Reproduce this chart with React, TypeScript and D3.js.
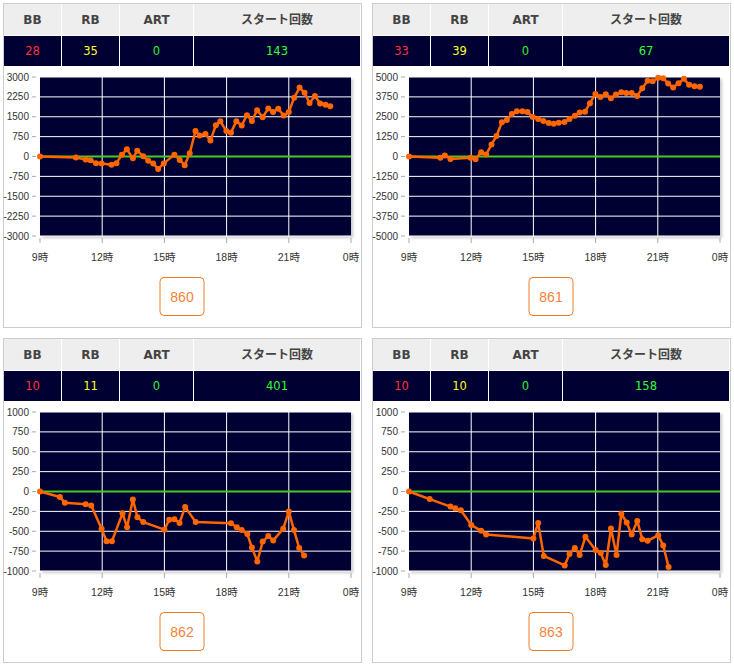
import React from 'react';
import * as d3 from 'd3';

const hourTicks = [9, 12, 15, 18, 21, 24];
const hourLabels = ['9時', '12時', '15時', '18時', '21時', '0時'];
const headers = ['BB', 'RB', 'ART', 'スタート回数'];
const machineIds = ['860', '861', '862', '863'];
const bbCounts = [28, 33, 10, 10];
const rbCounts = [35, 39, 11, 10];
const artCounts = [0, 0, 0, 0];
const startCounts = [143, 67, 401, 158];
const yLimits = [3000, 5000, 1000, 1000];

const times860 = [9, 10.73, 11.2, 11.44, 11.7, 11.97, 12.45, 12.69, 12.95, 13.19, 13.48, 13.69, 13.98, 14.22, 14.46, 14.7, 14.97, 15.48, 15.74, 15.98, 16.22, 16.5, 16.7, 16.98, 17.22, 17.48, 17.7, 17.99, 18.21, 18.47, 18.73, 18.98, 19.22, 19.47, 19.74, 20.01, 20.24, 20.49, 20.75, 21.0, 21.26, 21.52, 21.76, 22.0, 22.26, 22.51, 22.77, 23.0];
const diff860 = [0, -40, -110, -140, -250, -260, -310, -250, 70, 270, -70, 220, 6, -160, -260, -470, -260, 70, -130, -330, 120, 960, 790, 850, 600, 1180, 1330, 960, 900, 1330, 1170, 1560, 1340, 1750, 1480, 1810, 1680, 1800, 1550, 1680, 2220, 2600, 2410, 2020, 2280, 2000, 1950, 1900];

const times861 = [9, 10.51, 10.73, 11.0, 11.97, 12.21, 12.48, 12.72, 12.98, 13.22, 13.48, 13.72, 13.96, 14.2, 14.47, 14.71, 14.97, 15.23, 15.48, 15.74, 15.98, 16.22, 16.5, 16.74, 17.0, 17.23, 17.49, 17.73, 17.99, 18.23, 18.49, 18.74, 18.98, 19.24, 19.48, 19.74, 20.0, 20.25, 20.51, 20.75, 21.02, 21.26, 21.5, 21.74, 22.0, 22.26, 22.51, 22.77, 23.03];
const diff861 = [0, -85, 65, -150, -85, -170, 275, 125, 760, 1285, 2150, 2295, 2675, 2840, 2840, 2800, 2485, 2360, 2230, 2105, 2060, 2125, 2170, 2360, 2570, 2760, 2820, 3350, 3935, 3745, 3915, 3665, 3895, 4040, 4000, 4000, 3810, 4295, 4760, 4735, 4945, 4925, 4590, 4335, 4610, 4885, 4505, 4420, 4380];

const times862 = [9, 9.96, 10.2, 11.2, 11.47, 11.97, 12.21, 12.47, 12.98, 13.2, 13.48, 13.7, 13.98, 15.0, 15.23, 15.48, 15.73, 16.0, 16.51, 18.21, 18.49, 18.73, 19.0, 19.22, 19.48, 19.74, 20.01, 20.25, 20.73, 21.0, 21.25, 21.5, 21.74];
const diff862 = [0, -70, -140, -160, -175, -470, -625, -625, -275, -450, -100, -325, -385, -480, -355, -350, -395, -195, -385, -400, -450, -485, -535, -705, -880, -630, -560, -615, -470, -250, -485, -710, -805];

const times863 = [9, 10.0, 11.0, 11.23, 11.5, 12.0, 12.48, 12.72, 15.0, 15.23, 15.5, 16.51, 16.74, 17.0, 17.23, 17.51, 18.0, 18.25, 18.49, 18.74, 19.01, 19.24, 19.5, 19.74, 20.01, 20.25, 20.51, 21.02, 21.26, 21.52];
const diff863 = [0, -95, -190, -210, -235, -420, -495, -540, -590, -395, -810, -930, -785, -710, -800, -570, -735, -775, -925, -465, -800, -280, -390, -540, -370, -600, -620, -550, -680, -950];

const seriesTimes = [times860, times861, times862, times863];
const seriesDiffs = [diff860, diff861, diff862, diff863];

const valueColors = ['#ff3333', '#ffff22', '#33ee33', '#33ff33'];
const colEdges: [number, number][] = [[4, 61], [62, 119], [120, 193], [194, 360]];

function Panel({ idx, ox, oy }: { idx: number; ox: number; oy: number }) {
  const plotL = 40, plotR = 351, plotT = 77, plotB = 236;
  const x = d3.scaleLinear().domain([9, 24]).range([plotL, plotR]);
  const lim = yLimits[idx];
  const y = d3.scaleLinear().domain([-lim, lim]).range([plotB, plotT]);
  const yTicks = d3.range(-4, 5).map((k) => (k * lim) / 4);
  const times = seriesTimes[idx];
  const diffs = seriesDiffs[idx];
  const pts = times.map((t, i) => [t, diffs[i]] as [number, number]);
  const line = d3.line<[number, number]>().x((d) => x(d[0])).y((d) => y(d[1]));
  const values = [bbCounts[idx], rbCounts[idx], artCounts[idx], startCounts[idx]];
  const cx = (3 + 361) / 2;
  return (
    <g transform={`translate(${ox},${oy})`}>
      <rect x={3.5} y={3.5} width={358} height={324} fill="#fff" stroke="#cccccc" />
      {colEdges.map(([a, b], i) => (
        <g key={i}>
          <rect x={a} y={4} width={b - a} height={31} fill="#eeeeee" />
          <rect x={a} y={36} width={b - a} height={30} fill="#000033" />
          <text x={(a + b) / 2} y={24} textAnchor="middle" fontSize={12} fontWeight="bold" fill="#444" fontFamily="'DejaVu Sans', 'Noto Sans CJK JP', sans-serif">{headers[i]}</text>
          <text x={(a + b) / 2} y={55} textAnchor="middle" fontSize={11.5} fill={valueColors[i]} fontFamily="'DejaVu Sans', sans-serif">{values[i]}</text>
        </g>
      ))}
      <rect x={plotL + 2} y={plotT + 2} width={plotR - plotL} height={plotB - plotT} fill="#888" opacity={0.45} filter="url(#shadowBlur)" />
      <rect x={plotL} y={plotT} width={plotR - plotL} height={plotB - plotT} fill="#000033" />
      {yTicks.map((v) => (
        <g key={v}>
          <line x1={plotL} x2={plotR} y1={y(v)} y2={y(v)} stroke="#fff" strokeWidth={1} />
          <line x1={plotL - 8} x2={plotL - 4} y1={y(v)} y2={y(v)} stroke="#aaa" />
          <text x={plotL - 11} y={y(v) + 3.5} textAnchor="end" fontSize={10} fill="#333" fontFamily="'Liberation Sans', Arial, sans-serif">{v}</text>
        </g>
      ))}
      {hourTicks.map((h, i) => (
        <g key={h}>
          {h > 9 && h < 24 && <line x1={x(h)} x2={x(h)} y1={plotT} y2={plotB} stroke="#fff" strokeWidth={1} />}
          <line x1={x(h)} x2={x(h)} y1={plotB + 2} y2={plotB + 7} stroke="#aaa" />
          <text x={x(h)} y={261} textAnchor="middle" fontSize={10.5} fill="#333" fontFamily="'Liberation Sans', 'Noto Sans CJK JP', sans-serif">{hourLabels[i]}</text>
        </g>
      ))}
      <line x1={plotL} x2={plotR} y1={y(0)} y2={y(0)} stroke="#44cc22" strokeWidth={2} />
      <path d={line(pts) || ''} fill="none" stroke="#ff6600" strokeWidth={2.5} strokeLinejoin="round" />
      {pts.map((d, i) => (
        <circle key={i} cx={x(d[0])} cy={y(d[1])} r={3} fill="#ff6600" />
      ))}
      <rect x={cx - 22} y={277.5} width={44} height={38} rx={4} fill="#fff" stroke="#f07a22" strokeWidth={1} />
      <text x={cx} y={301.5} textAnchor="middle" fontSize={14} fill="#f5823a" fontFamily="'Liberation Sans', Arial, sans-serif">{machineIds[idx]}</text>
    </g>
  );
}

export default function App() {
  const offsets: [number, number][] = [[0, 0], [369, 0], [0, 335], [369, 335]];
  return (
    <svg width={734} height={667} style={{ position: 'absolute', left: 0, top: 0, background: '#fff' }}>
      <defs>
        <filter id="shadowBlur" x="-10%" y="-10%" width="120%" height="120%">
          <feGaussianBlur stdDeviation={1.5} />
        </filter>
      </defs>
      {offsets.map(([ox, oy], i) => (
        <Panel key={i} idx={i} ox={ox} oy={oy} />
      ))}
    </svg>
  );
}
